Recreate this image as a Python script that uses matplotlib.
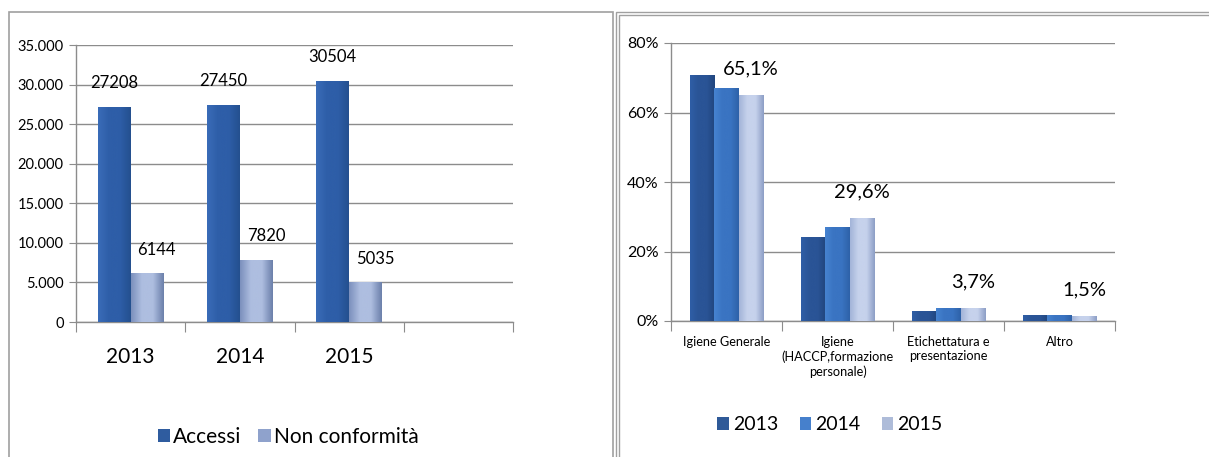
import matplotlib
matplotlib.use("Agg")
import matplotlib.pyplot as plt
import numpy as np
from matplotlib.patches import Rectangle
from matplotlib.colors import LinearSegmentedColormap
from matplotlib.ticker import FuncFormatter, MultipleLocator

plt.rcParams['font.family'] = ['Lato', 'DejaVu Sans']

# ---------------- data ----------------
years = ["2013", "2014", "2015", ""]
accessi = [27208, 27450, 30504]
non_conf = [6144, 7820, 5035]
left_series = ["Accessi", "Non conformità"]

categories = ["Igiene Generale", "Igiene\n(HACCP,formazione\npersonale)",
              "Etichettatura e\npresentazione", "Altro"]
pct_2013 = [70.8, 24.1, 2.8, 1.8]
pct_2014 = [67.0, 27.1, 3.8, 1.8]
pct_2015 = [65.1, 29.6, 3.7, 1.5]
pct_labels_2015 = ["65,1%", "29,6%", "3,7%", "1,5%"]
right_series = ["2013", "2014", "2015"]

W, H = 1209, 457
fig = plt.figure(figsize=(W / 100, H / 100), dpi=100)
fig.patch.set_facecolor("white")


def px_axes(x0, y0, x1, y1):
    return fig.add_axes([x0 / W, 1 - y1 / H, (x1 - x0) / W, (y1 - y0) / H])


def gradient_bars(ax, bars, c_edge, c_mid, c_edge2=None):
    if c_edge2 is None:
        c_edge2 = c_edge
    cmap = LinearSegmentedColormap.from_list("g", [c_edge, c_mid, c_mid, c_edge2])
    grad = np.linspace(0, 1, 64).reshape(1, -1)
    for b in bars:
        x, w, h = b.get_x(), b.get_width(), b.get_height()
        if h <= 0:
            continue
        im = ax.imshow(grad, cmap=cmap, aspect="auto",
                       extent=[x, x + w, 0, h], zorder=3, interpolation="bicubic")
        im.set_clip_path(b)
        b.set_facecolor("none")


def style_axes(ax):
    for s in ["top", "right"]:
        ax.spines[s].set_visible(False)
    for s in ["left", "bottom"]:
        ax.spines[s].set_color("#8c8c8c")
        ax.spines[s].set_linewidth(1.0)
    ax.grid(axis="y", color="#8c8c8c", linewidth=1.0, zorder=0)
    ax.set_axisbelow(True)
    ax.tick_params(axis="y", which="major", length=5, color="#8c8c8c", labelsize=10.5,
                   pad=4)
    ax.tick_params(axis="x", which="major", length=7, color="#8c8c8c", labelbottom=False)
    ax.tick_params(axis="x", which="minor", length=0)


# ---------------- left chart ----------------
axL = px_axes(76, 45, 513, 322)
nL = len(years)
xL = np.arange(nL)
bw = 0.3
bA = axL.bar(xL[:3] - bw / 2, accessi, bw, zorder=3, edgecolor="none")
bN = axL.bar(xL[:3] + bw / 2, non_conf, bw, zorder=3, edgecolor="none")
gradient_bars(axL, bA, "#3a6cb8", "#2e5ea8", "#24508f")
gradient_bars(axL, bN, "#7c90bd", "#aebee0", "#6c80ab")
axL.set_xlim(-0.5, nL - 0.5)
axL.set_ylim(0, 35000)
axL.yaxis.set_major_locator(MultipleLocator(5000))
axL.yaxis.set_major_formatter(FuncFormatter(lambda v, p: f"{int(v):,}".replace(",", ".")))
axL.set_xticks(np.arange(nL + 1) - 0.5)
axL.set_xticks(xL, minor=True)
axL.set_xticklabels(years, minor=True, fontsize=15)
style_axes(axL)
axL.tick_params(axis="x", which="minor", pad=18)
for b, v in zip(bA, accessi):
    axL.annotate(str(v), (b.get_x() + b.get_width() / 2, v), xytext=(0, 17),
                 textcoords="offset points", ha="center", va="center", fontsize=12)
for b, v in zip(bN, non_conf):
    axL.annotate(str(v), (b.get_x() + b.get_width() / 2, v), xytext=(7, 17),
                 textcoords="offset points", ha="center", va="center", fontsize=12)
hL = [Rectangle((0, 0), 1, 1, facecolor="#2f5c9f"), Rectangle((0, 0), 1, 1, facecolor="#8fa2cc")]
fig.legend(hL, left_series, loc="center", bbox_to_anchor=(288 / W, 1 - 437 / H),
           ncol=2, frameon=False, fontsize=15, handlelength=0.6, handleheight=0.6,
           handletextpad=0.15, columnspacing=0.8)

# ---------------- right chart ----------------
axR = px_axes(671, 43, 1115, 321)
nR = len(categories)
xR = np.arange(nR)
bw2 = 0.22
b13 = axR.bar(xR - bw2, pct_2013, bw2, zorder=3, edgecolor="none")
b14 = axR.bar(xR, pct_2014, bw2, zorder=3, edgecolor="none")
b15 = axR.bar(xR + bw2, pct_2015, bw2, zorder=3, edgecolor="none")
gradient_bars(axR, b13, "#2f5ea6", "#2a5496", "#21467e")
gradient_bars(axR, b14, "#4683d0", "#3a74c2", "#2e62a8")
gradient_bars(axR, b15, "#a3b4d8", "#c6d2ec", "#8c9ec6")
axR.set_xlim(-0.5, nR - 0.5)
axR.set_ylim(0, 80)
axR.yaxis.set_major_locator(MultipleLocator(20))
axR.yaxis.set_major_formatter(FuncFormatter(lambda v, p: f"{int(v)}%"))
axR.set_xticks(np.arange(nR + 1) - 0.5)
axR.set_xticks(xR, minor=True)
axR.set_xticklabels(categories, minor=True, fontsize=9.2, linespacing=1.2)
style_axes(axR)
axR.tick_params(axis="y", labelsize=11.5)
axR.tick_params(axis="x", which="minor", pad=11)
for b, v, t in zip(b15, pct_2015, pct_labels_2015):
    axR.annotate(t, (b.get_x() + b.get_width() / 2, v), xytext=(0, 19),
                 textcoords="offset points", ha="center", va="center", fontsize=14.5)
hR = [Rectangle((0, 0), 1, 1, facecolor="#2f5a98"),
      Rectangle((0, 0), 1, 1, facecolor="#4680cc"),
      Rectangle((0, 0), 1, 1, facecolor="#aebcd9")]
fig.legend(hR, right_series, loc="center", bbox_to_anchor=(830 / W, 1 - 425 / H),
           ncol=3, frameon=False, fontsize=14, handlelength=0.6, handleheight=0.6,
           handletextpad=0.2, columnspacing=1.1)

# ---------------- panel borders ----------------
fig.add_artist(Rectangle((9 / W, -0.05), (613 - 9) / W, 1.05 - 12 / H,
                         transform=fig.transFigure, fill=False,
                         edgecolor="#a0a0a0", linewidth=1.2))
for dx in (0, 3):
    fig.add_artist(Rectangle(((616 + dx) / W, -0.05), 1.0, 1.05 - (12 + dx) / H,
                             transform=fig.transFigure, fill=False,
                             edgecolor="#a0a0a0", linewidth=1.0))

fig.savefig("out.png", dpi=100)
